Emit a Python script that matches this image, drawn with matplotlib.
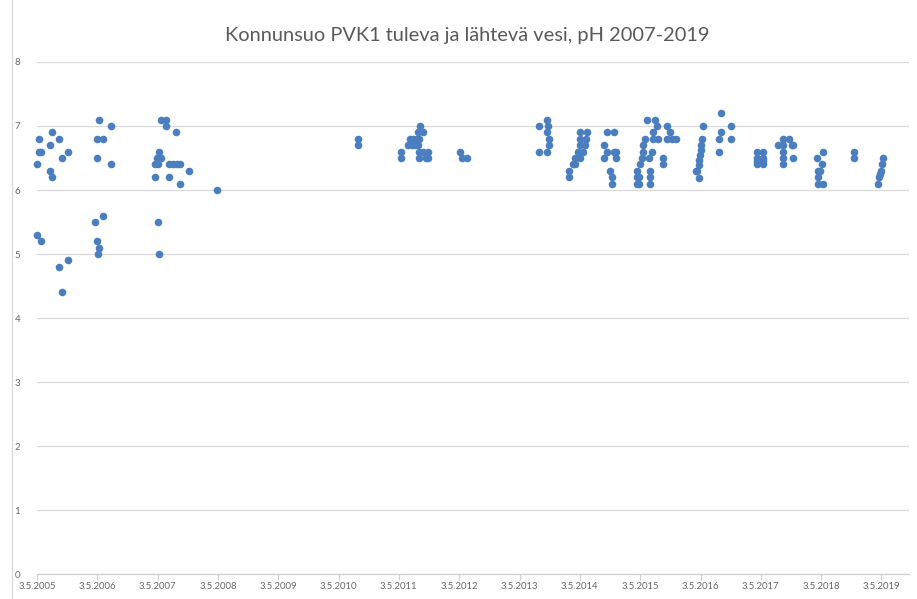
import datetime as dt
import matplotlib
matplotlib.use("Agg")
import matplotlib.pyplot as plt
import matplotlib.dates as mdates
from matplotlib.lines import Line2D
from matplotlib.ticker import FuncFormatter

plt.rcParams['font.family'] = ['Lato', 'DejaVu Sans']

# sample dates and pH values
dates = [
    "2005-05-03", "2005-05-15", "2005-05-17", "2005-05-29", "2005-05-03", "2005-05-29",
    "2005-07-21", "2005-08-04", "2005-07-21", "2005-08-04", "2005-09-15", "2005-09-15",
    "2005-10-01", "2005-10-01", "2005-11-05", "2005-11-05",
    "2006-05-13", "2006-05-12", "2006-05-03", "2006-05-05", "2006-04-29", "2006-04-29",
    "2006-04-21", "2006-06-05", "2006-06-05", "2006-07-23", "2006-07-23",
    "2007-04-19", "2007-04-19", "2007-04-28", "2007-05-07", "2007-05-07", "2007-05-11",
    "2007-05-13", "2007-05-25", "2007-05-25", "2007-06-23", "2007-06-23", "2007-07-13",
    "2007-07-13", "2007-08-03", "2007-08-23", "2007-08-26", "2007-09-16", "2007-09-16",
    "2007-11-10", "2008-04-27",
    "2010-08-29", "2010-08-29",
    "2011-05-16", "2011-05-16", "2011-06-29", "2011-07-10", "2011-07-20", "2011-07-30",
    "2011-08-09", "2011-08-19", "2011-08-29", "2011-08-29", "2011-09-04", "2011-09-04",
    "2011-09-04", "2011-09-08", "2011-09-25", "2011-09-28", "2011-10-14", "2011-10-28",
    "2011-10-28",
    "2012-05-08", "2012-05-19", "2012-06-18",
    "2013-08-31", "2013-08-31", "2013-10-15", "2013-10-15", "2013-10-15", "2013-10-23",
    "2013-10-31", "2013-10-31",
    "2014-03-01", "2014-03-01", "2014-03-23", "2014-04-05", "2014-04-05", "2014-05-05",
    "2014-04-23", "2014-05-23", "2014-05-05", "2014-06-04", "2014-05-05", "2014-06-10",
    "2014-05-05", "2014-06-14",
    "2014-09-27", "2014-09-27", "2014-10-14", "2014-10-14", "2014-11-03", "2014-11-13",
    "2014-11-15", "2014-11-27", "2014-11-27", "2014-12-09", "2014-12-09",
    "2015-04-13", "2015-04-13", "2015-04-13", "2015-04-25", "2015-04-25", "2015-05-03",
    "2015-05-13", "2015-05-21", "2015-05-21", "2015-06-01", "2015-06-12", "2015-06-28",
    "2015-07-03", "2015-07-03", "2015-07-03", "2015-07-13", "2015-07-19", "2015-07-23",
    "2015-08-02", "2015-08-12", "2015-08-22", "2015-09-21", "2015-09-21", "2015-10-12",
    "2015-10-12", "2015-11-01", "2015-11-11", "2015-12-07",
    "2016-04-08", "2016-04-14", "2016-04-22", "2016-04-26", "2016-04-26", "2016-04-30",
    "2016-05-03", "2016-05-07", "2016-05-13", "2016-05-21",
    "2016-08-26", "2016-08-26", "2016-09-07", "2016-09-07", "2016-11-05", "2016-11-05",
    "2017-04-11", "2017-04-11", "2017-04-11", "2017-04-11",
    "2017-05-18", "2017-05-18", "2017-05-18", "2017-05-18",
    "2017-08-18", "2017-09-17", "2017-09-17", "2017-09-17", "2017-09-17", "2017-09-17",
    "2017-10-23", "2017-11-07", "2017-11-16", "2017-11-16",
    "2018-04-11", "2018-04-15", "2018-04-15", "2018-04-15", "2018-04-27", "2018-05-08",
    "2018-05-14", "2018-05-14", "2018-11-20", "2018-11-20",
    "2019-04-14", "2019-04-20", "2019-04-26", "2019-05-02", "2019-05-08", "2019-05-16",
]
ph = [
    6.4, 6.8, 6.6, 6.6, 5.3, 5.2,
    6.7, 6.9, 6.3, 6.2, 6.8, 4.8,
    6.5, 4.4, 6.6, 4.9,
    7.1, 5.1, 6.8, 5.0, 6.5, 5.2,
    5.5, 6.8, 5.6, 7.0, 6.4,
    6.4, 6.2, 6.5, 5.5, 6.4, 6.6,
    5.0, 7.1, 6.5, 7.1, 7.0, 6.4,
    6.2, 6.4, 6.9, 6.4, 6.4, 6.1,
    6.3, 6.0,
    6.8, 6.7,
    6.6, 6.5, 6.7, 6.8, 6.7, 6.8,
    6.7, 6.8, 6.9, 6.7, 6.8, 6.6,
    6.5, 7.0, 6.9, 6.6, 6.5, 6.6,
    6.5,
    6.6, 6.5, 6.5,
    7.0, 6.6, 7.1, 6.9, 6.6, 7.0,
    6.8, 6.7,
    6.3, 6.2, 6.4, 6.4, 6.5, 6.5,
    6.6, 6.6, 6.7, 6.7, 6.8, 6.8,
    6.9, 6.9,
    6.7, 6.5, 6.9, 6.6, 6.3, 6.2,
    6.1, 6.9, 6.6, 6.6, 6.5,
    6.1, 6.2, 6.3, 6.1, 6.2, 6.4,
    6.5, 6.6, 6.7, 6.8, 7.1, 6.5,
    6.3, 6.2, 6.1, 6.6, 6.9, 6.8,
    7.1, 7.0, 6.8, 6.5, 6.4, 7.0,
    6.8, 6.9, 6.8, 6.8,
    6.3, 6.3, 6.39, 6.47, 6.18, 6.55,
    6.63, 6.7, 6.8, 7.0,
    6.8, 6.6, 7.2, 6.9, 7.0, 6.8,
    6.6, 6.5, 6.45, 6.4,
    6.6, 6.5, 6.45, 6.4,
    6.7, 6.8, 6.7, 6.6, 6.5, 6.4,
    6.8, 6.7, 6.7, 6.5,
    6.5, 6.3, 6.2, 6.1, 6.3, 6.4,
    6.6, 6.1, 6.6, 6.5,
    6.1, 6.2, 6.25, 6.3, 6.4, 6.5,
]

tick_dates = ["%d-05-03" % y for y in range(2005, 2020)]
y_ticks = [0, 1, 2, 3, 4, 5, 6, 7, 8]
title = "Konnunsuo PVK1 tuleva ja lähtevä vesi, pH 2007-2019"

x = [dt.datetime.strptime(d, "%Y-%m-%d") for d in dates]
xt = [dt.datetime.strptime(d, "%Y-%m-%d") for d in tick_dates]

fig = plt.figure(figsize=(9.17, 5.99), dpi=100)
ax = fig.add_axes([0.0403, 0.0417, 0.9507, 0.8548])

ax.scatter(x, ph, s=30, color='#4a7ebf', zorder=3, linewidths=0, clip_on=False)

ax.set_xlim(xt[0], dt.datetime(2019, 10, 16))
ax.set_ylim(0, 8)
ax.set_yticks(y_ticks)
ax.set_xticks(xt)
ax.xaxis.set_major_formatter(FuncFormatter(
    lambda v, p: "{0.day}.{0.month}.{0.year}".format(mdates.num2date(v))))

ax.grid(axis='y', color='#d9d9d9', linewidth=0.9)
ax.set_axisbelow(True)
for s in ['top', 'right', 'left']:
    ax.spines[s].set_visible(False)
ax.spines['bottom'].set_color('#d0d0d0')
ax.spines['bottom'].set_linewidth(0.9)

ax.tick_params(axis='y', length=0, pad=12, labelsize=7, labelcolor='#666666')
ax.tick_params(axis='x', length=4, width=0.8, color='#d0d0d0', pad=2,
               labelsize=6.8, labelcolor='#666666')

fig.text(0.51, 0.94, title, ha='center', va='center', fontsize=14.4, color='#595959')

# left frame line of the chart box
fig.add_artist(Line2D([0.013, 0.013], [0, 1], transform=fig.transFigure,
                      color='#d9d9d9', linewidth=0.9))

fig.savefig('out.png', dpi=100)
